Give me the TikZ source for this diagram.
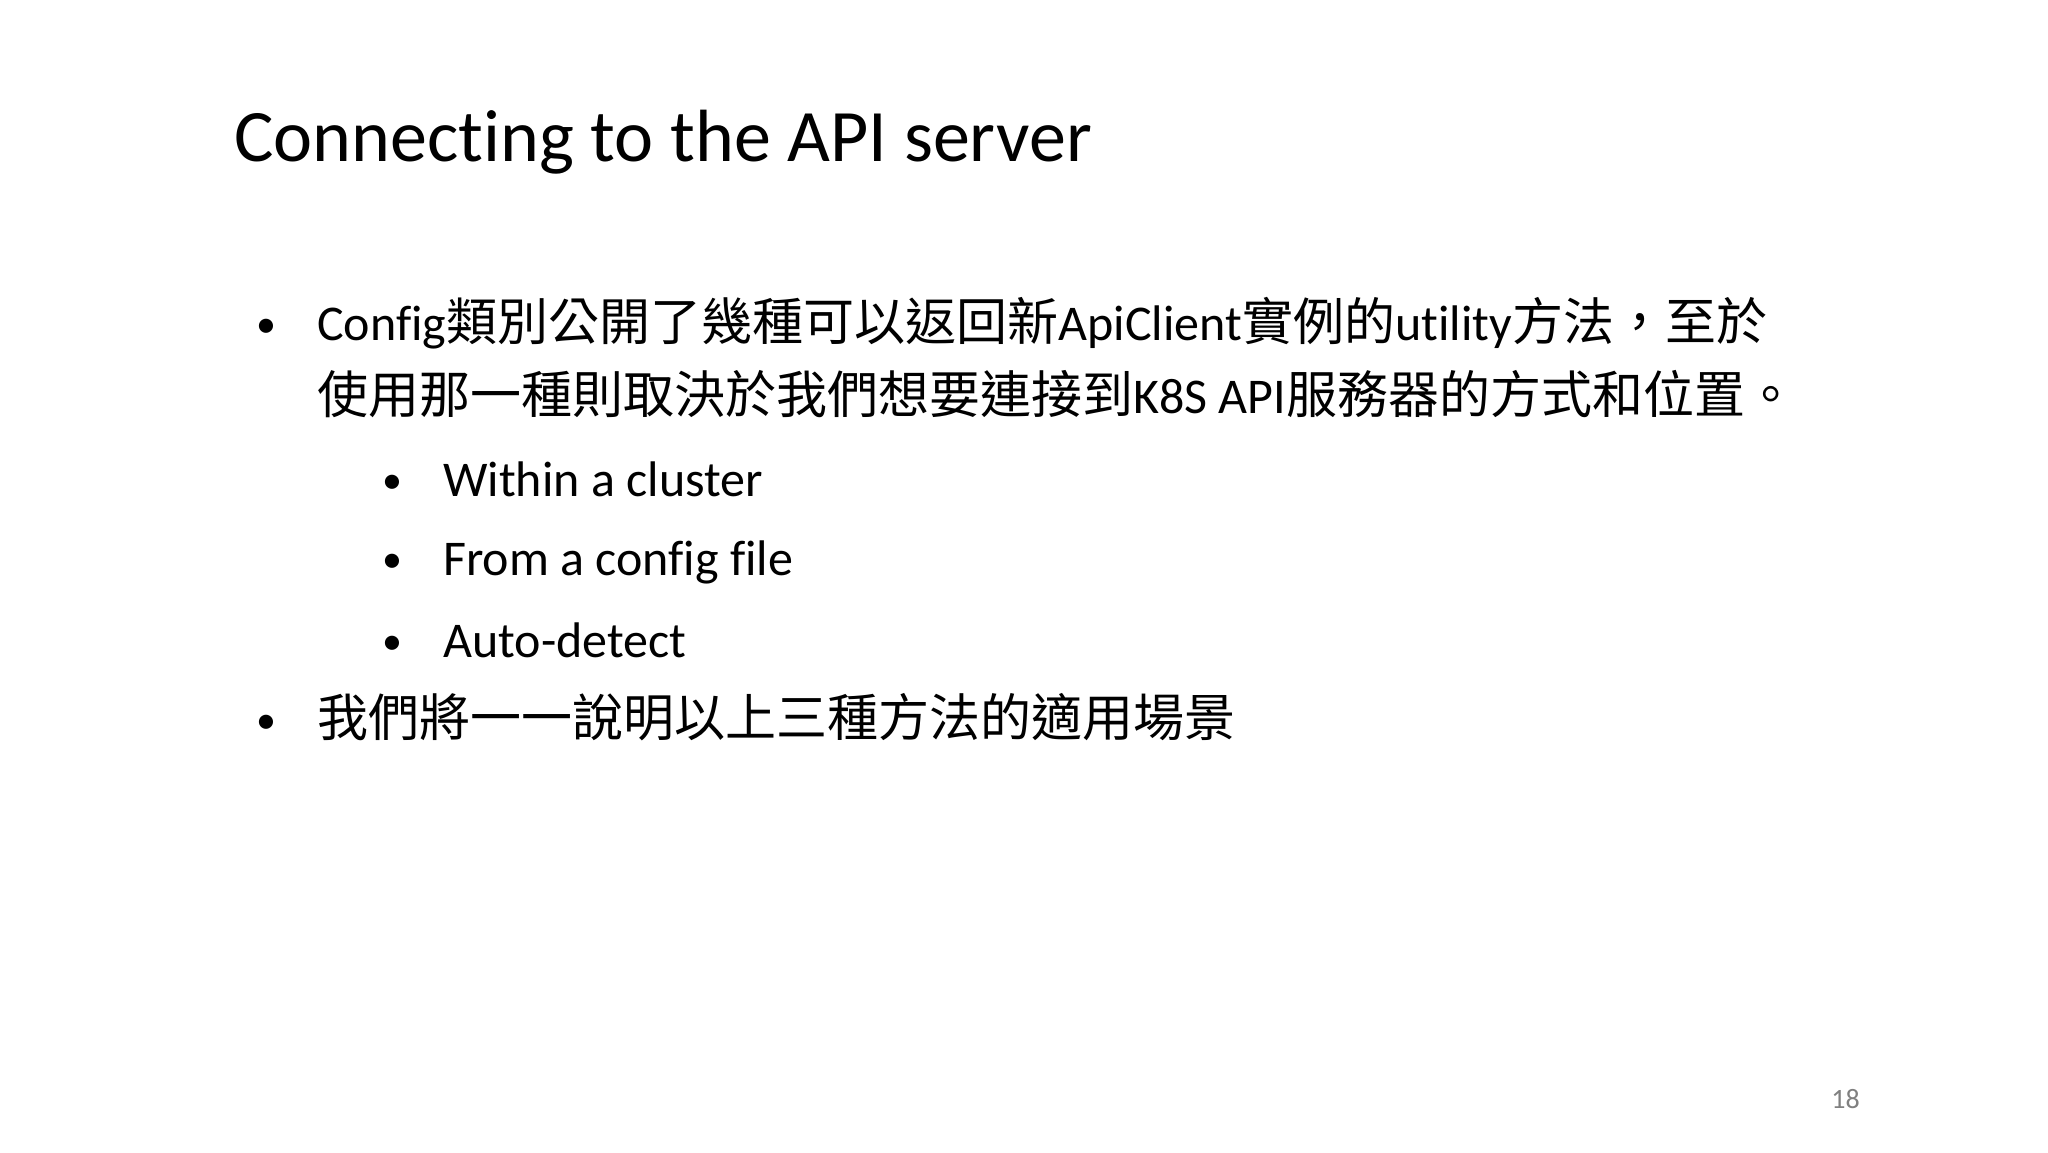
\documentclass[tikz,border=0pt]{standalone}
\usepackage{fontspec}
\setmainfont{Carlito}[Ligatures=NoCommon]
\newfontfamily\cjk{Noto Sans CJK TC}[Scale=1.02]
\newcommand{\zh}[1]{{\cjk #1}}
\begin{document}
\begin{tikzpicture}[x=1pt,y=-1pt,
  txt/.style={anchor=base west,inner sep=0pt,font=\fontsize{50}{60}\selectfont},
  bul/.style={anchor=base west,inner sep=0pt,font=\fontsize{40}{48}\selectfont}]
\fill[white] (0,0) rectangle (2048,1152);
\useasboundingbox (0,0) rectangle (2048,1152);
\node[anchor=base west,inner sep=0pt,font=\fontsize{74}{90}\selectfont] (title) at (234,161) {Connecting to the API server};
\node[bul] (b1) at (256,337) {•};
\node[txt] (t1a) at (317,340) {Con{fi}g\zh{類別公開了幾種可以返回新}ApiClient\zh{實例的}utility\zh{方法，至於}};
\node[txt] (t1b) at (317,413) {\zh{使用那一種則取決於我們想要連接到}K8S API\zh{服務器的方式和位置。}};
\node[bul] (s1) at (382,493) {•};
\node[txt] (u1) at (443,496) {Within a cluster};
\node[bul] (s2) at (382,572) {•};
\node[txt] (u2) at (443,575) {From a con{fi}g {fi}le};
\node[bul] (s3) at (382,654) {•};
\node[txt] (u3) at (443,657) {Auto-detect};
\node[bul] (b2) at (256,733) {•};
\node[txt] (t2) at (317,736) {\zh{我們將一一說明以上三種方法的適用場景}};
\node[anchor=base east,inner sep=0pt,font=\fontsize{28}{32}\selectfont,text=gray] (pg) at (1860,1108) {18};
\end{tikzpicture}
\end{document}
